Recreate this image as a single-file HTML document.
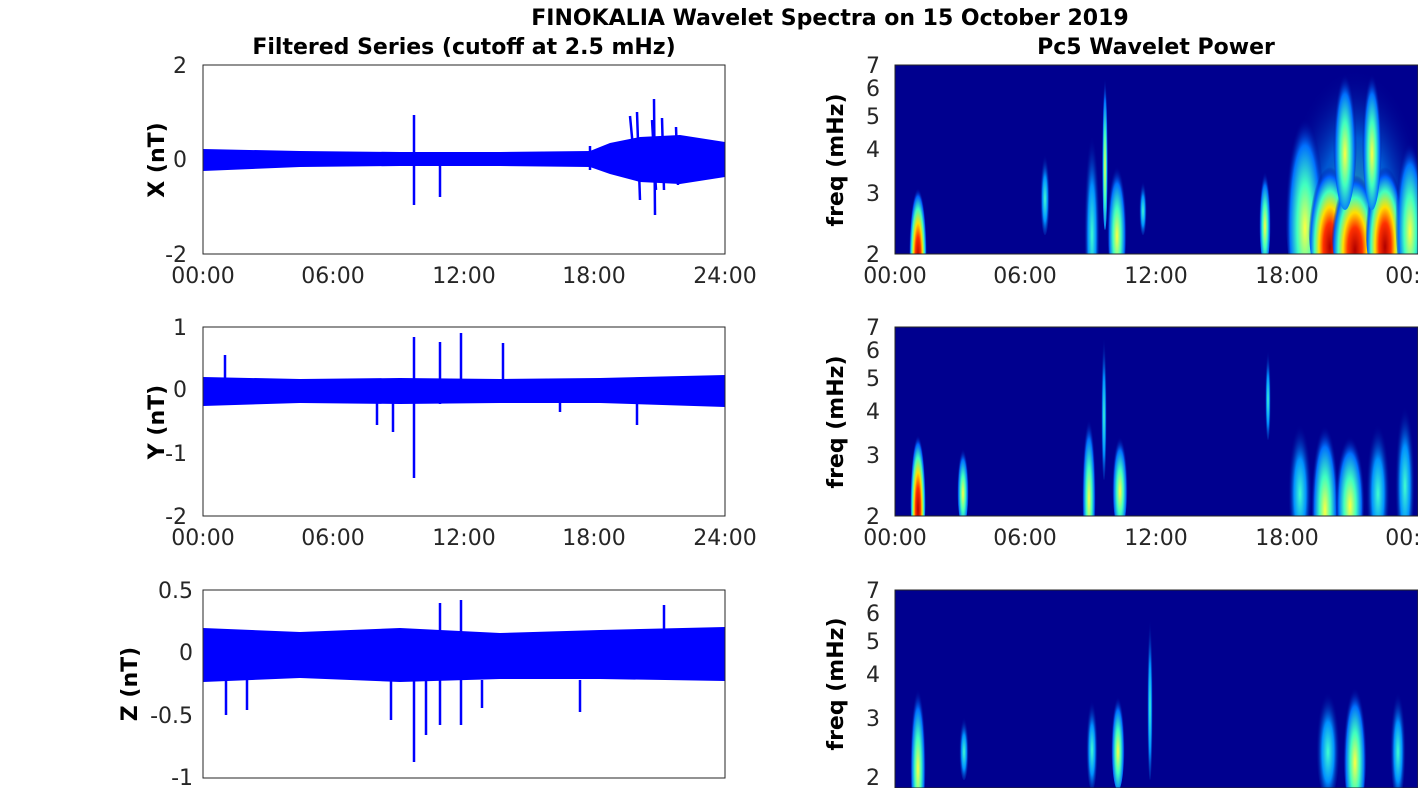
<!DOCTYPE html>
<html><head><meta charset="utf-8"><style>
body{margin:0;background:#fff}
svg{display:block;font-family:"DejaVu Sans","Liberation Sans",sans-serif}
.t{font-size:22px;fill:#262626}
.b{font-size:22px;font-weight:bold;fill:#000}
.a{fill:none;stroke:#262626;stroke-width:1}
</style></head><body>
<svg width="1418" height="788" viewBox="0 0 1418 788" xmlns="http://www.w3.org/2000/svg">
<defs>
<radialGradient id="hot" cx="50%" cy="70%" r="50%"><stop offset="0" stop-color="#b00000"/><stop offset=".3" stop-color="#ff3000"/><stop offset=".5" stop-color="#ffe000"/><stop offset=".7" stop-color="#40ffc0"/><stop offset=".88" stop-color="#0060ff"/><stop offset="1" stop-color="#00008f" stop-opacity="0"/></radialGradient>
<radialGradient id="warm" cx="50%" cy="65%" r="50%"><stop offset="0" stop-color="#ffff40"/><stop offset=".4" stop-color="#40ffc0"/><stop offset=".75" stop-color="#0070ff"/><stop offset="1" stop-color="#00008f" stop-opacity="0"/></radialGradient>
<radialGradient id="cool" cx="50%" cy="60%" r="50%"><stop offset="0" stop-color="#40ffd0"/><stop offset=".5" stop-color="#0090ff"/><stop offset="1" stop-color="#00008f" stop-opacity="0"/></radialGradient>
<clipPath id="c1"><rect x="895" y="65" width="523" height="189"/></clipPath>
<clipPath id="c2"><rect x="895" y="327" width="523" height="189"/></clipPath>
<clipPath id="c3"><rect x="895" y="590" width="523" height="198"/></clipPath>
</defs>
<text x="830" y="25" class="b" text-anchor="middle">FINOKALIA Wavelet Spectra on 15 October 2019</text>
<text x="464" y="54" class="b" text-anchor="middle">Filtered Series (cutoff at 2.5 mHz)</text>
<text x="1156" y="54" class="b" text-anchor="middle">Pc5 Wavelet Power</text>

<!-- LEFT 1 -->
<g>
<path d="M203,149 L300,151 400,152 500,152 590,151 610,143 640,137 680,135 725,142 L725,177 680,184 640,182 610,174 590,167 500,166 400,166 300,167 203,171Z" fill="#0000ff"/>
<path d="M630,116 L634,158 M652,120 L656,190 M662,118 L664,190 M676,127 L678,185 M654,99 L655,215 M637,112 L640,200 M414,115 L414,205 M440,165 L440,197 M590,146 L590,170" stroke="#0000ff" stroke-width="2.5"/>
<rect x="203" y="65" width="522" height="189" class="a"/>
<text x="187" y="73" class="t" text-anchor="end">2</text><text x="187" y="167" class="t" text-anchor="end">0</text><text x="187" y="262" class="t" text-anchor="end">-2</text>
<text x="164" y="160" class="b" text-anchor="middle" transform="rotate(-90 164 160)">X (nT)</text>
<text x="203" y="283" class="t" text-anchor="middle">00:00</text><text x="333" y="283" class="t" text-anchor="middle">06:00</text><text x="464" y="283" class="t" text-anchor="middle">12:00</text><text x="594" y="283" class="t" text-anchor="middle">18:00</text><text x="725" y="283" class="t" text-anchor="middle">24:00</text>
</g>
<!-- LEFT 2 -->
<g>
<path d="M203,377 L300,379 400,378 500,379 600,378 725,375 L725,407 600,403 500,403 400,404 300,403 203,406Z" fill="#0000ff"/>
<path d="M414,337 L414,478 M440,342 L440,404 M461,333 L461,395 M503,343 L503,395 M225,355 L225,400 M377,400 L377,425 M393,400 L393,432 M560,395 L560,412 M637,400 L637,425" stroke="#0000ff" stroke-width="2.5"/>
<rect x="203" y="327" width="522" height="189" class="a"/>
<text x="187" y="335" class="t" text-anchor="end">1</text><text x="187" y="397" class="t" text-anchor="end">0</text><text x="187" y="461" class="t" text-anchor="end">-1</text><text x="187" y="524" class="t" text-anchor="end">-2</text>
<text x="164" y="422" class="b" text-anchor="middle" transform="rotate(-90 164 422)">Y (nT)</text>
<text x="203" y="545" class="t" text-anchor="middle">00:00</text><text x="333" y="545" class="t" text-anchor="middle">06:00</text><text x="464" y="545" class="t" text-anchor="middle">12:00</text><text x="594" y="545" class="t" text-anchor="middle">18:00</text><text x="725" y="545" class="t" text-anchor="middle">24:00</text>
</g>
<!-- LEFT 3 -->
<g>
<path d="M203,628 L300,632 400,628 500,633 600,630 725,627 L725,681 600,679 500,679 400,682 300,678 203,682Z" fill="#0000ff"/>
<path d="M414,655 L414,762 M440,603 L440,725 M461,600 L461,725 M226,680 L226,715 M247,680 L247,710 M391,680 L391,720 M426,680 L426,735 M482,680 L482,708 M580,680 L580,712 M664,605 L664,650" stroke="#0000ff" stroke-width="2.5"/>
<rect x="203" y="590" width="522" height="188" class="a"/>
<text x="193" y="598" class="t" text-anchor="end">0.5</text><text x="193" y="660" class="t" text-anchor="end">0</text><text x="193" y="723" class="t" text-anchor="end">-0.5</text><text x="193" y="785" class="t" text-anchor="end">-1</text>
<text x="137" y="684" class="b" text-anchor="middle" transform="rotate(-90 137 684)">Z (nT)</text>
</g>

<!-- RIGHT 1 -->
<g clip-path="url(#c1)">
<rect x="895" y="65" width="523" height="189" fill="#00008f"/>
<ellipse cx="918" cy="230" rx="9" ry="70" fill="url(#hot)"/>
<ellipse cx="1092" cy="215" rx="8" ry="100" fill="url(#cool)"/>
<ellipse cx="1105" cy="140" rx="3" ry="90" fill="url(#warm)"/>
<ellipse cx="1117" cy="215" rx="10" ry="70" fill="url(#warm)"/>
<ellipse cx="1045" cy="190" rx="5" ry="45" fill="url(#cool)"/>
<ellipse cx="1143" cy="205" rx="4" ry="30" fill="url(#cool)"/>
<ellipse cx="1265" cy="210" rx="6" ry="55" fill="url(#warm)"/>
<ellipse cx="1355" cy="180" rx="70" ry="140" fill="url(#cool)" opacity=".6"/>
<ellipse cx="1305" cy="195" rx="20" ry="110" fill="url(#warm)"/>
<ellipse cx="1330" cy="215" rx="22" ry="80" fill="url(#hot)"/>
<ellipse cx="1355" cy="220" rx="24" ry="75" fill="url(#hot)"/>
<ellipse cx="1385" cy="215" rx="20" ry="80" fill="url(#hot)"/>
<ellipse cx="1410" cy="205" rx="15" ry="90" fill="url(#warm)"/>
<ellipse cx="1345" cy="130" rx="12" ry="80" fill="url(#warm)"/>
<ellipse cx="1372" cy="130" rx="10" ry="80" fill="url(#warm)"/>
</g>
<rect x="895" y="65" width="523" height="189" class="a"/>
<!-- RIGHT 2 -->
<g clip-path="url(#c2)">
<rect x="895" y="327" width="523" height="189" fill="#00008f"/>
<ellipse cx="918" cy="480" rx="8" ry="75" fill="url(#hot)"/>
<ellipse cx="963" cy="480" rx="6" ry="45" fill="url(#warm)"/>
<ellipse cx="1089" cy="475" rx="7" ry="80" fill="url(#warm)"/>
<ellipse cx="1104" cy="400" rx="3" ry="80" fill="url(#cool)"/>
<ellipse cx="1120" cy="475" rx="8" ry="55" fill="url(#warm)"/>
<ellipse cx="1268" cy="390" rx="3" ry="50" fill="url(#cool)"/>
<ellipse cx="1300" cy="480" rx="12" ry="70" fill="url(#cool)"/>
<ellipse cx="1325" cy="485" rx="14" ry="85" fill="url(#warm)"/>
<ellipse cx="1350" cy="485" rx="15" ry="70" fill="url(#warm)"/>
<ellipse cx="1378" cy="480" rx="12" ry="70" fill="url(#cool)"/>
<ellipse cx="1405" cy="470" rx="10" ry="80" fill="url(#cool)"/>
</g>
<rect x="895" y="327" width="523" height="189" class="a"/>
<!-- RIGHT 3 -->
<g clip-path="url(#c3)">
<rect x="895" y="590" width="523" height="198" fill="#00008f"/>
<ellipse cx="918" cy="745" rx="8" ry="80" fill="url(#warm)"/>
<ellipse cx="964" cy="745" rx="5" ry="35" fill="url(#cool)"/>
<ellipse cx="1092" cy="740" rx="6" ry="50" fill="url(#cool)"/>
<ellipse cx="1118" cy="735" rx="7" ry="55" fill="url(#warm)"/>
<ellipse cx="1150" cy="690" rx="3" ry="90" fill="url(#cool)"/>
<ellipse cx="1328" cy="740" rx="12" ry="60" fill="url(#cool)"/>
<ellipse cx="1355" cy="740" rx="12" ry="75" fill="url(#warm)"/>
<ellipse cx="1398" cy="740" rx="8" ry="60" fill="url(#cool)"/>
</g>
<rect x="895" y="590" width="523" height="198" class="a"/>
<!-- right ticks -->
<g class="t">
<text x="880" y="73" text-anchor="end">7</text><text x="880" y="96" text-anchor="end">6</text><text x="880" y="124" text-anchor="end">5</text><text x="880" y="157" text-anchor="end">4</text><text x="880" y="201" text-anchor="end">3</text><text x="880" y="262" text-anchor="end">2</text>
<text x="880" y="335" text-anchor="end">7</text><text x="880" y="358" text-anchor="end">6</text><text x="880" y="386" text-anchor="end">5</text><text x="880" y="419" text-anchor="end">4</text><text x="880" y="463" text-anchor="end">3</text><text x="880" y="524" text-anchor="end">2</text>
<text x="880" y="598" text-anchor="end">7</text><text x="880" y="621" text-anchor="end">6</text><text x="880" y="649" text-anchor="end">5</text><text x="880" y="682" text-anchor="end">4</text><text x="880" y="726" text-anchor="end">3</text><text x="880" y="785" text-anchor="end">2</text>
<text x="895" y="283" text-anchor="middle">00:00</text><text x="1025" y="283" text-anchor="middle">06:00</text><text x="1156" y="283" text-anchor="middle">12:00</text><text x="1287" y="283" text-anchor="middle">18:00</text><text x="1417" y="283" text-anchor="middle">00:00</text>
<text x="895" y="545" text-anchor="middle">00:00</text><text x="1025" y="545" text-anchor="middle">06:00</text><text x="1156" y="545" text-anchor="middle">12:00</text><text x="1287" y="545" text-anchor="middle">18:00</text><text x="1417" y="545" text-anchor="middle">00:00</text>
</g>
<text x="843" y="160" class="b" text-anchor="middle" transform="rotate(-90 843 160)">freq (mHz)</text>
<text x="843" y="422" class="b" text-anchor="middle" transform="rotate(-90 843 422)">freq (mHz)</text>
<text x="843" y="684" class="b" text-anchor="middle" transform="rotate(-90 843 684)">freq (mHz)</text>
</svg>
</body></html>
